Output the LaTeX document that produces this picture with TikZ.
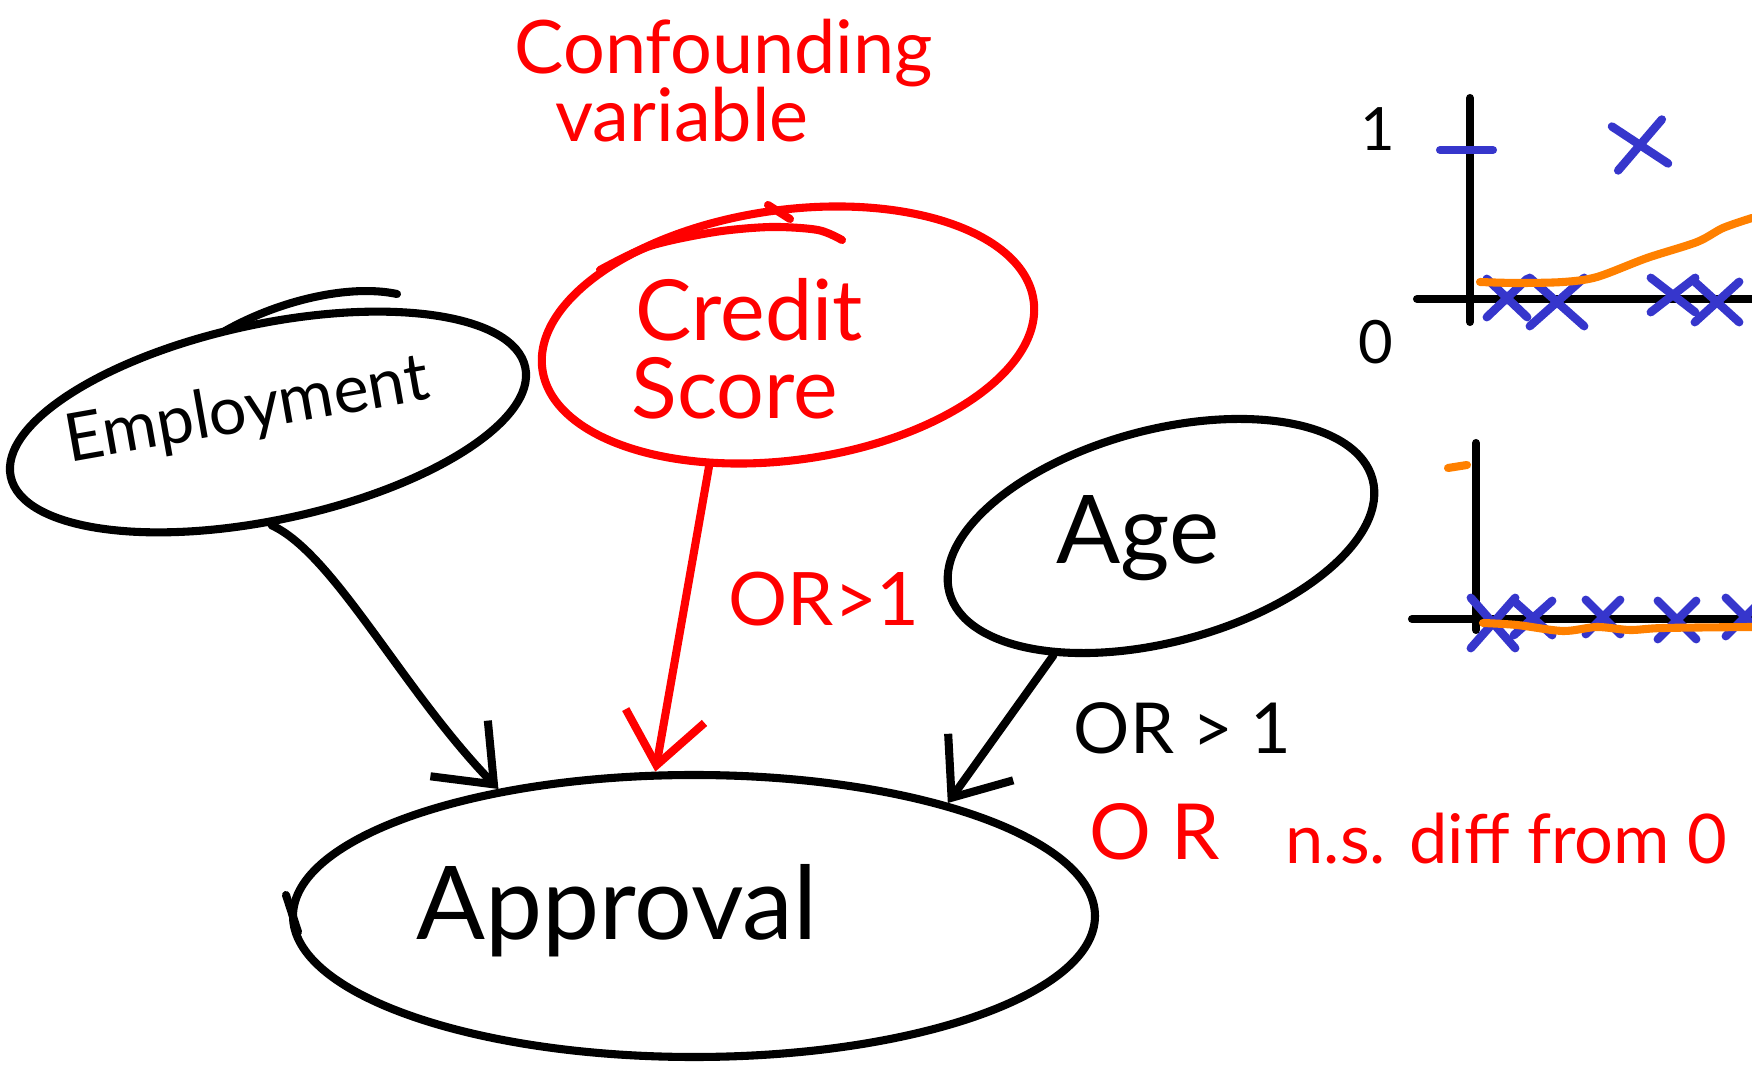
\documentclass[tikz,border=0pt]{standalone}
\usepackage{fontspec}
\setmainfont{Lato}
\usetikzlibrary{shapes.geometric,shapes.misc,arrows.meta}
\definecolor{redpen}{HTML}{FF0000}
\definecolor{bluepen}{HTML}{3636CC}
\definecolor{orangepen}{HTML}{FF8000}
\tikzset{
  blob/.style={draw, ellipse, inner sep=0pt, line width=2.3pt},
  ink/.style={line width=2.3pt, line cap=round, line join=round},
  arr/.style={ink, -{Straight Barb[length=5mm,width=8mm]}},
  xm/.style={draw=bluepen, cross out, line width=2.4pt, line cap=round, inner sep=0pt},
  lbl/.style={inner sep=0pt, anchor=base west},
}
\begin{document}
\begin{tikzpicture}[x=0.1mm,y=-0.1mm]
\useasboundingbox (0,0) rectangle (1752,1076);

% title
\node[lbl, text=redpen, font=\fontsize{21pt}{25pt}\selectfont] (conf1) at (514,74) {Confounding};
\node[lbl, text=redpen, font=\fontsize{21pt}{25pt}\selectfont] (conf2) at (555,142) {variable};

% ellipses
\node[blob, minimum width=52.6mm, minimum height=19.6mm, rotate=12] (emp) at (268,422) {};
\node[blob, draw=redpen, minimum width=49.6mm, minimum height=25mm, rotate=8] (cred) at (788,335) {};
\node[blob, minimum width=43.8mm, minimum height=21.2mm, rotate=15] (age) at (1161,536) {};
\node[blob, minimum width=80.2mm, minimum height=28.2mm] (appr) at (694,916) {};

% hand-drawn overshoots
\draw[ink] (225,331) .. controls (280,300) and (350,284) .. (397,294);
\draw[ink, redpen] plot[smooth] coordinates {(842,240) (818,230) (771,227) (715,232) (650,246) (600,270)};
\draw[ink, redpen] (768,205) -- (790,219);
\draw[ink] (286,895) -- (298,932);

% texts in ellipses
\node[inner sep=0pt, rotate=10, font=\fontsize{19pt}{23pt}\selectfont] (empt) at (247,412) {Employment};
\node[lbl, text=redpen, font=\fontsize{24pt}{28pt}\selectfont] (credt1) at (635,341) {Credit};
\node[lbl, text=redpen, font=\fontsize{24pt}{28pt}\selectfont] (credt2) at (631,419) {Score};
\node[lbl, font=\fontsize{27pt}{31pt}\selectfont] (aget) at (1056,564) {Age};
\node[lbl, font=\fontsize{29pt}{33pt}\selectfont] (apprt) at (416,939) {Approval};

% connectors
\draw[arr] (emp.-100) .. controls +(62,28) and +(-96,-99) .. (appr.147);
\draw[arr, redpen] (cred.-129) -- (appr.105);
\draw[arr] (age.-147) -- (appr.24);

% labels
\node[lbl, text=redpen, font=\fontsize{21pt}{25pt}\selectfont] (or1) at (728,626) {OR>1};
\node[lbl, font=\fontsize{20pt}{24pt}\selectfont] (or2) at (1073,754) {OR > 1};
\node[lbl, text=redpen, font=\fontsize{22pt}{26pt}\selectfont] (or3) at (1089,860) {O R};
\node[lbl, text=redpen, font=\fontsize{19.5pt}{23pt}\selectfont] (ns) at (1285,864) {n.s. diff from 0};

% top plot
\draw[ink] (1470,98) -- (1470,322);
\draw[ink] (1417,299) -- (1752,299);
\draw[ink, bluepen] (1440,150) -- (1493,150);
\node[font=\fontsize{17pt}{20pt}\selectfont, inner sep=0pt] (one) at (1378,129) {1};
\node[font=\fontsize{17pt}{20pt}\selectfont, inner sep=0pt] (zero) at (1376,342) {0};
\node[xm, minimum width=4.2mm, minimum height=3.6mm, rotate=8] (t1) at (1640,145) {};
\node[xm, minimum width=3.2mm, minimum height=3mm] (t2) at (1507,298) {};
\node[xm, minimum width=4.6mm, minimum height=4mm] (t3) at (1557,302) {};
\node[xm, minimum width=3.6mm, minimum height=2.6mm] (t4) at (1673,295) {};
\node[xm, minimum width=3.6mm, minimum height=3.2mm] (t5) at (1717,302) {};
\draw[ink, orangepen] plot[smooth] coordinates {(1480,282) (1517,283) (1563,282) (1597,277) (1647,258) (1697,242) (1723,228) (1752,218)};

% bottom plot
\draw[ink] (1476,443) -- (1476,630);
\draw[ink] (1412,619) -- (1752,619);
\draw[ink, orangepen] (1448,468) -- (1467,465);
\node[xm, minimum width=3.6mm, minimum height=4.2mm] (b1) at (1493,623) {};
\node[xm, minimum width=3mm, minimum height=2.6mm] (b2) at (1533,618) {};
\node[xm, minimum width=2.6mm, minimum height=2.6mm] (b3) at (1603,617) {};
\node[xm, minimum width=3mm, minimum height=3mm] (b4) at (1677,620) {};
\node[xm, minimum width=3mm, minimum height=3mm] (b5) at (1745,617) {};
\draw[ink, orangepen] plot[smooth] coordinates {(1483,623) (1517,625) (1563,631) (1597,627) (1630,630) (1663,628) (1752,627)};
\end{tikzpicture}
\end{document}
